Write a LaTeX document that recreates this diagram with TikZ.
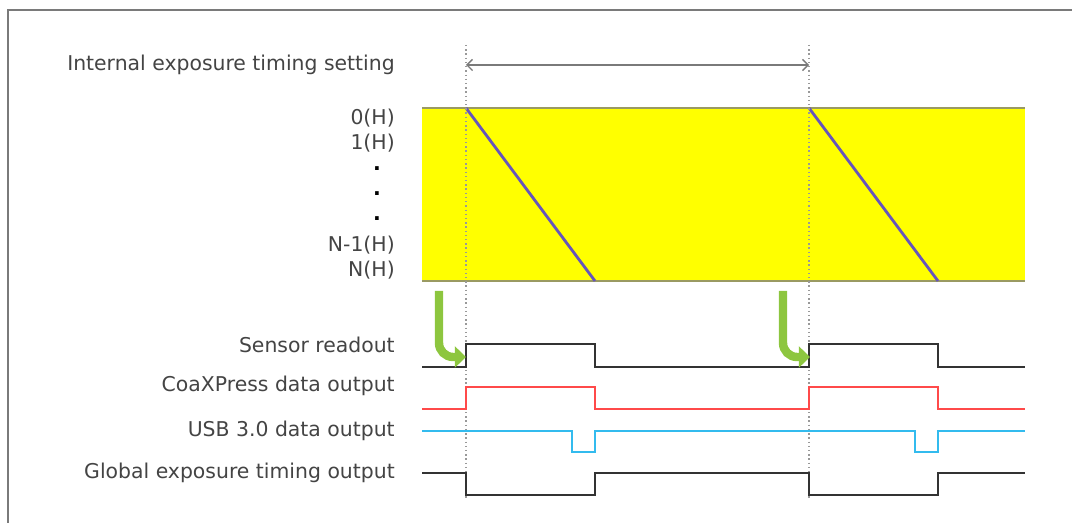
\documentclass[tikz,border=0pt]{standalone}
\usepackage{fontspec}
\setmainfont{DejaVu Sans}
\usetikzlibrary{arrows.meta, positioning}
\definecolor{labeltext}{HTML}{444444}
\definecolor{framegray}{HTML}{7A7A7A}
\definecolor{sensorbg}{HTML}{FFFF00}
\definecolor{sensoredge}{HTML}{9A9A62}
\definecolor{rowline}{HTML}{6655BB}
\definecolor{cxpred}{HTML}{FF4A4A}
\definecolor{usbblue}{HTML}{33BBEE}
\definecolor{readgreen}{HTML}{8DC63F}
\tikzset{
  lbl/.style={anchor=east, inner sep=0pt, text=labeltext, font=\fontsize{14.5}{17}\selectfont},
  rowdot/.style={inner sep=0pt, text=black, font=\bfseries\fontsize{14.5}{17}\selectfont},
  guide/.style={draw=gray!80, dotted, line width=1pt},
  signal/.style={line width=1.4pt, line join=miter},
  readarrow/.style={draw=readgreen, line width=6pt, rounded corners=10pt,
    -{Triangle[length=8pt, width=15pt]}}
}

\begin{document}
\begin{tikzpicture}[x=0.025cm, y=-0.025cm]
    \useasboundingbox (0,0) rectangle (1072,523);
    \draw[framegray, line width=1.3pt] (8,523) -- (8,10) -- (1072,10);

    % sensor area
    \fill[sensorbg] (422,108) rectangle (1025,281);
    \draw[sensoredge, line width=1.4pt] (422,108) -- (1025,108);
    \draw[sensoredge, line width=1.4pt] (422,281) -- (1025,281);
    \draw[rowline, line width=2pt] (466,108) -- (595,281);
    \draw[rowline, line width=2pt] (809,108) -- (938,281);

    \coordinate (e1) at (466,65);
    \coordinate (e2) at (809,65);
    \draw[guide] (466,45) -- (466,500);
    \draw[guide] (809,45) -- (809,500);
    \draw[framegray, line width=0.9pt, {Straight Barb[length=4pt]}-{Straight Barb[length=4pt]}] (e1) -- (e2);

    \node[lbl] (iets) at (395,65) {Internal exposure timing setting};
    \node[lbl] (h0) at (395,118) {0(H)};
    \node[lbl] (h1) at (395,143) {1(H)};
    \node[rowdot] (d1) at (377,169) {.};
    \node[rowdot] (d2) at (377,194) {.};
    \node[rowdot] (d3) at (377,219) {.};
    \node[lbl] (hn1) at (395,245) {N-1(H)};
    \node[lbl] (hn) at (395,270) {N(H)};

    % signal names
    \node[lbl] (sro) at (395,345) {Sensor readout};
    \node[lbl] (cxp) at (395,386) {CoaXPress data output};
    \node[lbl] (usb) at (395,431) {USB 3.0 data output};
    \node[lbl] (geo) at (395,473) {Global exposure timing output};

    % waveforms
    \draw[signal, black!80] (422,367) -- (466,367) -- (466,344) -- (595,344) -- (595,367)
      -- (809,367) -- (809,344) -- (938,344) -- (938,367) -- (1025,367);
    \draw[signal, cxpred] (422,409) -- (466,409) -- (466,387) -- (595,387) -- (595,409)
      -- (809,409) -- (809,387) -- (938,387) -- (938,409) -- (1025,409);
    \draw[signal, usbblue] (422,431) -- (572,431) -- (572,452) -- (595,452) -- (595,431)
      -- (915,431) -- (915,452) -- (938,452) -- (938,431) -- (1025,431);
    \draw[signal, black!80] (422,473) -- (466,473) -- (466,495) -- (595,495) -- (595,473)
      -- (809,473) -- (809,495) -- (938,495) -- (938,473) -- (1025,473);

    % readout start
    \draw[readarrow] (439,291) -- (439,357) -- (466,357);
    \draw[readarrow] (783,291) -- (783,357) -- (810,357);
  \end{tikzpicture}
\end{document}
